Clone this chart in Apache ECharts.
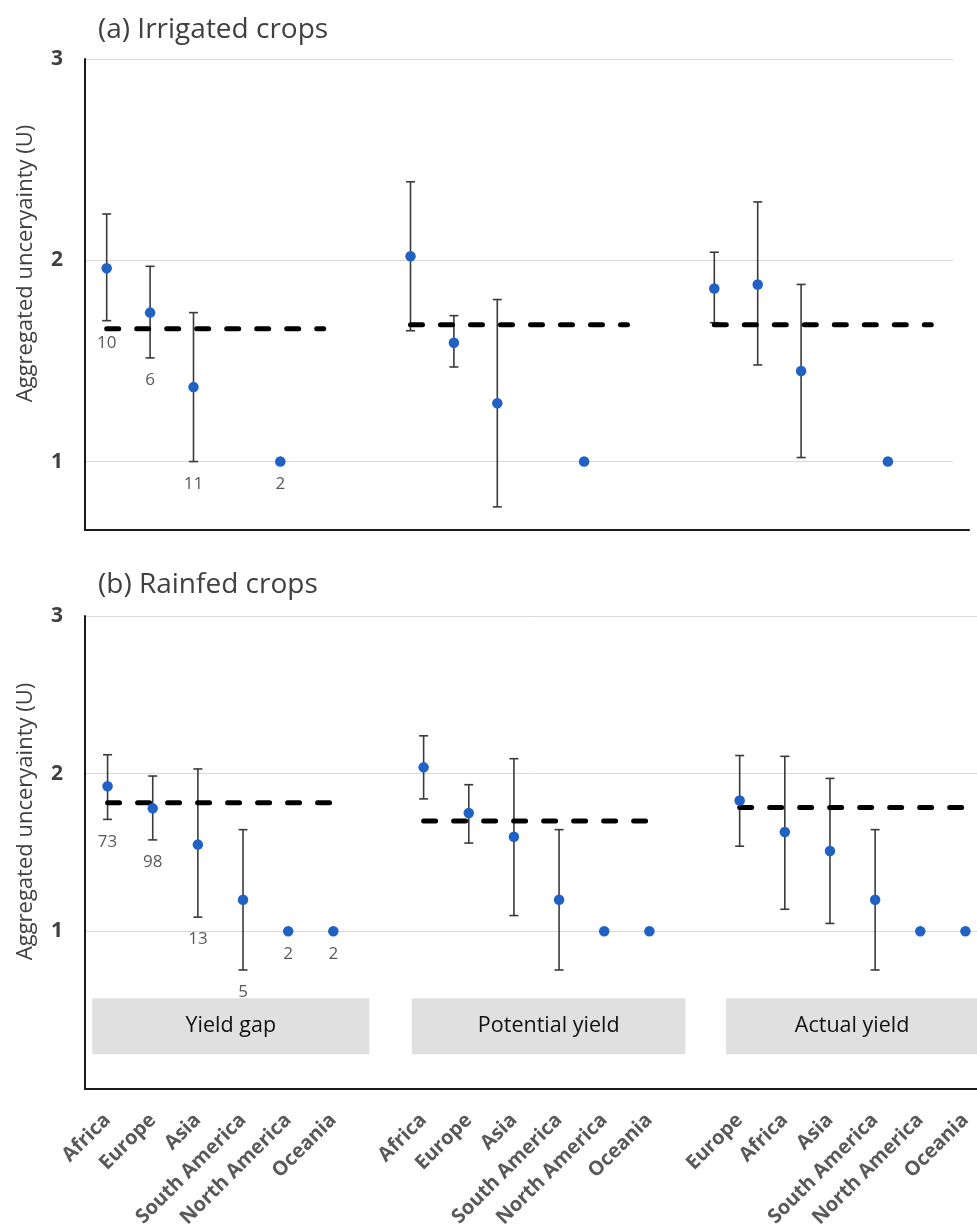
<!DOCTYPE html>
<html><head><meta charset="utf-8">
<script src="https://cdn.jsdelivr.net/npm/echarts@6/dist/echarts.min.js"></script>
<style>html,body{margin:0;padding:0;background:#fff}#c{width:977px;height:1229px}</style>
</head><body><div id="c"></div>
<script>
// ---------- DATA ----------
const regionsOrder1 = ['Africa','Europe','Asia','South America','North America','Oceania'];
const regionsOrder3 = ['Europe','Africa','Asia','South America','North America','Oceania'];
const categories = [...regionsOrder1, '', ...regionsOrder1, '', ...regionsOrder3];

const groupNames = ['Yield gap','Potential yield','Actual yield'];
const groupFirstIndex = [0, 7, 14];
const groupLastIndex = [5, 12, 19];
const groupBoxRange = [[-0.34, 5.8], [6.74, 12.8], [13.7, 19.28]];
const groupBoxY = [0.22, 0.575];

const yTicksIrrigated = [1, 2, 3];
const yTicksRainfed = [0, 1, 2, 3];

// (a) Irrigated crops
const irrValue = [1.96, 1.74, 1.37, null, 1.00, null,  null,  2.02, 1.59, 1.29, null, 1.00, null,  null,  1.86, 1.88, 1.45, null, 1.00, null];
const irrLow   = [1.70, 1.515, 1.00, null, null, null, null,  1.65, 1.47, 0.775, null, null, null, null,  1.69, 1.48, 1.02, null, null, null];
const irrHigh  = [2.23, 1.97, 1.74, null, null, null,  null,  2.39, 1.725, 1.805, null, null, null, null, 2.04, 2.29, 1.88, null, null, null];
const irrN     = ['10', '6', '11', '', '2', '',        '',    '', '', '', '', '', '',                 '',    '', '', '', '', '', ''];
const irrGroupMean = [1.66, 1.68, 1.68];

// (b) Rainfed crops
const rfValue = [1.92, 1.78, 1.55, 1.20, 1.00, 1.00,  null,  2.04, 1.75, 1.60, 1.20, 1.00, 1.00,  null,  1.83, 1.63, 1.51, 1.20, 1.00, 1.00];
const rfLow   = [1.71, 1.58, 1.09, 0.755, null, null, null,  1.84, 1.56, 1.10, 0.755, null, null, null,  1.54, 1.14, 1.05, 0.755, null, null];
const rfHigh  = [2.12, 1.985, 2.03, 1.645, null, null, null, 2.24, 1.93, 2.095, 1.645, null, null, null, 2.115, 2.11, 1.97, 1.645, null, null];
const rfN     = ['73', '98', '13', '5', '2', '2',     '',    '', '', '', '', '', '',                 '',    '', '', '', '', '', ''];
const rfGroupMean = [1.815, 1.70, 1.785];

// ---------- STYLE ----------
const FONT = 'Open Sans';
const DOT = '#1f61c4';
const BAR = '#3a3a3a';

function errorBarSeries(xi, yi, lows, highs) {
  const data = [];
  lows.forEach((lo, i) => { if (lo !== null && highs[i] !== null) data.push([i, lo, highs[i]]); });
  return {
    type: 'custom', xAxisIndex: xi, yAxisIndex: yi, z: 2, silent: true,
    encode: { x: 0, y: [1, 2] },
    data,
    renderItem(params, api) {
      const x = api.value(0), lo = api.value(1), hi = api.value(2);
      const pLo = api.coord([x, lo]), pHi = api.coord([x, hi]);
      const cap = 4.5;
      const style = { stroke: BAR, lineWidth: 1.6 };
      return { type: 'group', children: [
        { type: 'line', shape: { x1: pLo[0], y1: pLo[1], x2: pHi[0], y2: pHi[1] }, style },
        { type: 'line', shape: { x1: pLo[0] - cap, y1: pLo[1], x2: pLo[0] + cap, y2: pLo[1] }, style },
        { type: 'line', shape: { x1: pHi[0] - cap, y1: pHi[1], x2: pHi[0] + cap, y2: pHi[1] }, style }
      ]};
    }
  };
}

function meanSeries(xi, yi, means) {
  return means.map((m, g) => ({
    type: 'line', xAxisIndex: xi, yAxisIndex: yi, z: 3, silent: true,
    symbol: 'none',
    data: [[groupFirstIndex[g], m], [groupLastIndex[g], m]],
    lineStyle: { color: '#000', width: 5, type: [12, 18], cap: 'round' }
  }));
}

function dotSeries(xi, yi, values) {
  const data = [];
  values.forEach((v, i) => { if (v !== null) data.push([i, v]); });
  return {
    type: 'scatter', xAxisIndex: xi, yAxisIndex: yi, z: 4, silent: true,
    symbol: 'circle', symbolSize: 10.5, itemStyle: { color: DOT, opacity: 1 },
    data
  };
}

function nLabelSeries(xi, yi, values, lows, ns) {
  const data = [];
  ns.forEach((n, i) => {
    if (n !== '' && values[i] !== null) data.push([i, lows[i] !== null ? lows[i] : values[i], n]);
  });
  return {
    type: 'scatter', xAxisIndex: xi, yAxisIndex: yi, z: 5, silent: true,
    symbolSize: 0, itemStyle: { color: 'transparent' },
    data,
    label: { show: true, position: 'bottom', distance: 14, formatter: p => p.value[2],
      fontFamily: FONT, fontSize: 17, color: '#2e2e2e' }
  };
}

function boxSeries(xi, yi) {
  const data = groupNames.map((name, g) => [groupBoxRange[g][0], groupBoxRange[g][1], groupBoxY[0], groupBoxY[1], name]);
  return {
    type: 'custom', xAxisIndex: xi, yAxisIndex: yi, z: 1, silent: true,
    encode: { x: [0, 1], y: [2, 3] },
    data,
    renderItem(params, api) {
      const p0 = api.coord([api.value(0), api.value(2)]);
      const p1 = api.coord([api.value(1), api.value(3)]);
      return {
        type: 'rect',
        shape: { x: p0[0], y: p1[1], width: p1[0] - p0[0], height: p0[1] - p1[1] },
        style: { fill: '#e0e0e0' },
        textContent: { style: { text: data[params.dataIndex][4], fontFamily: FONT, fontSize: 21.5, fill: '#111' } },
        textConfig: { position: 'inside' }
      };
    }
  };
}

const yLabelStyle = { fontFamily: FONT, fontSize: 21, fontWeight: 'bold', color: '#404040', margin: 22 };
const yName = 'Aggregated unceryainty (U)';
const yNameStyle = { fontFamily: FONT, fontSize: 22, color: '#404040', padding: [0, 0, 0, 62] };

const option = {
  animation: false,
  backgroundColor: '#fff',
  title: [
    { text: '(a) Irrigated crops', left: 98, top: 16, padding: 0,
      textStyle: { fontFamily: FONT, fontSize: 28, fontWeight: 'normal', color: '#404040' } },
    { text: '(b) Rainfed crops', left: 98, top: 571, padding: 0,
      textStyle: { fontFamily: FONT, fontSize: 28, fontWeight: 'normal', color: '#404040' } }
  ],
  grid: [
    { left: 85, top: 59, width: 868, height: 471, outerBoundsMode: 'none', containLabel: false },
    { left: 85, top: 616, width: 903, height: 473, outerBoundsMode: 'none', containLabel: false },
    { left: 85, top: 59, width: 884, height: 471, outerBoundsMode: 'none', containLabel: false }
  ],
  xAxis: [
    { gridIndex: 0, type: 'category', data: categories, boundaryGap: true,
      axisLine: { show: false }, axisTick: { show: false }, axisLabel: { show: false }, splitLine: { show: false } },
    { gridIndex: 1, type: 'category', data: categories, boundaryGap: true,
      axisLine: { show: true, onZero: false, lineStyle: { color: '#1a1a1a', width: 2 } },
      axisTick: { show: false },
      axisLabel: { show: true, interval: 0, rotate: 45, margin: 28, fontFamily: FONT, fontSize: 20,
        fontWeight: 'bold', color: '#595959' },
      splitLine: { show: false } },
    { gridIndex: 1, type: 'value', min: -0.5, max: 19.5, show: false },
    { gridIndex: 2, type: 'value', min: 0, max: 1,
      axisLine: { show: true, onZero: false, lineStyle: { color: '#1a1a1a', width: 2 } },
      axisTick: { show: false }, axisLabel: { show: false }, splitLine: { show: false } }
  ],
  yAxis: [
    { gridIndex: 0, type: 'value', min: 0.66, max: 3,
      name: yName, nameLocation: 'middle', nameGap: 48, nameTextStyle: yNameStyle,
      axisLine: { show: true, onZero: false, lineStyle: { color: '#1a1a1a', width: 2 } },
      axisTick: { show: false, customValues: yTicksIrrigated },
      axisLabel: Object.assign({ customValues: yTicksIrrigated }, yLabelStyle),
      splitLine: { show: true, lineStyle: { color: '#d9d9d9', width: 1 } } },
    { gridIndex: 1, type: 'value', min: yTicksRainfed[0], max: yTicksRainfed[yTicksRainfed.length - 1], interval: 1,
      name: yName, nameLocation: 'middle', nameGap: 48, nameTextStyle: yNameStyle,
      axisLine: { show: true, onZero: false, lineStyle: { color: '#1a1a1a', width: 2 } },
      axisTick: { show: false },
      axisLabel: Object.assign({ formatter: v => (v === 0 ? '' : String(v)) }, yLabelStyle),
      splitLine: { show: true, lineStyle: { color: '#d9d9d9', width: 1 } } },
    { gridIndex: 2, type: 'value', min: 0, max: 1, show: false }
  ],
  series: [
    errorBarSeries(0, 0, irrLow, irrHigh),
    ...meanSeries(0, 0, irrGroupMean),
    dotSeries(0, 0, irrValue),
    nLabelSeries(0, 0, irrValue, irrLow, irrN),
    boxSeries(2, 1),
    errorBarSeries(1, 1, rfLow, rfHigh),
    ...meanSeries(1, 1, rfGroupMean),
    dotSeries(1, 1, rfValue),
    nLabelSeries(1, 1, rfValue, rfLow, rfN)
  ]
};

const chart = echarts.init(document.getElementById('c'), null, { renderer: 'canvas' });
chart.setOption(option);
</script>
</body></html>
